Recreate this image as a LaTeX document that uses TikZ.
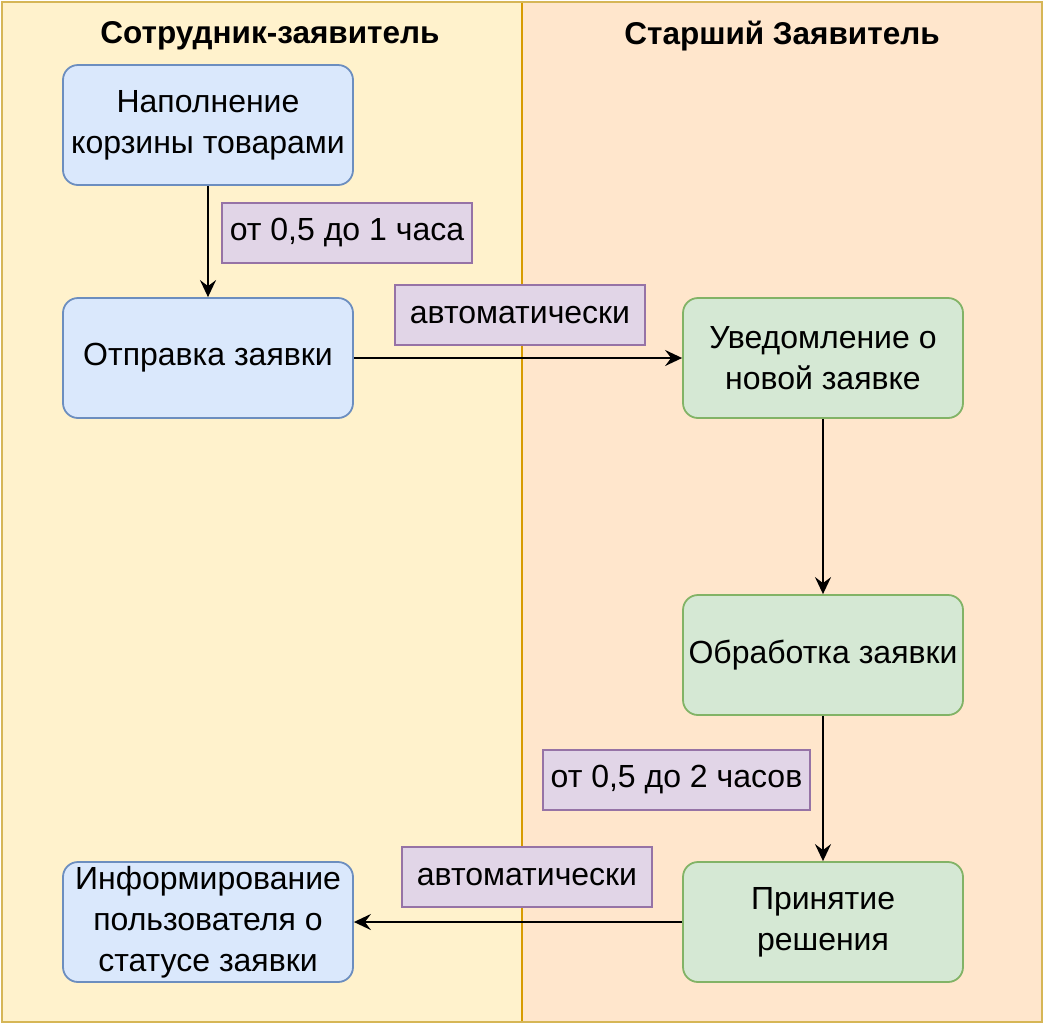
\documentclass[tikz,border=0pt]{standalone}
\usepackage{fontspec}
\setmainfont{Liberation Sans}
\usetikzlibrary{arrows.meta}

\definecolor{laneAfill}{HTML}{FFF2CC}
\definecolor{laneAdraw}{HTML}{D6B656}
\definecolor{laneBfill}{HTML}{FFE6CC}
\definecolor{laneBdraw}{HTML}{D79B00}
\definecolor{bluefill}{HTML}{DAE8FC}
\definecolor{bluedraw}{HTML}{6C8EBF}
\definecolor{greenfill}{HTML}{D5E8D4}
\definecolor{greendraw}{HTML}{82B366}
\definecolor{notefill}{HTML}{E1D5E7}
\definecolor{notedraw}{HTML}{9673A6}

\tikzset{
    proc/.style={rounded corners=15pt, line width=1.8pt, minimum height=120pt,
        inner sep=0pt, align=center, font=\fontsize{32}{41}\selectfont},
    blueproc/.style={proc, fill=bluefill, draw=bluedraw, minimum width=290pt},
    greenproc/.style={proc, fill=greenfill, draw=greendraw, minimum width=280pt},
    notebox/.style={fill=notefill, draw=notedraw, line width=1.8pt, minimum height=60pt,
        inner sep=0pt, font=\fontsize{32}{40}\selectfont},
    lanehead/.style={font=\bfseries\fontsize{31.5}{40}\selectfont},
    flow/.style={line width=2pt, -{Stealth[length=17pt,width=16pt,inset=6pt]}}
}

\begin{document}
\begin{tikzpicture}[x=1pt,y=-1pt]
    \useasboundingbox (0,0) rectangle (1046,1026);

    % Lanes
    \draw[fill=laneAfill, draw=laneAdraw, line width=2pt] (2,2) rectangle (522,1022);
    \draw[fill=laneBfill, draw=laneBdraw, line width=2pt] (522,2) rectangle (1042,1022);
    \draw[laneAdraw, line width=2pt] (2,2) rectangle (1042,1022);
    \node[lanehead] (headA) at (270,36) {Сотрудник-заявитель};
    \node[lanehead] (headB) at (782,36) {Старший Заявитель};

    % Employee steps
    \node[blueproc] (fill) at (208,125) {Наполнение\\корзины товарами};
    \node[blueproc] (send) at (208,358) {Отправка заявки};
    \node[blueproc] (info) at (208,922) {Информирование\\пользователя о\\статусе заявки};

    % Senior steps
    \node[greenproc] (notify) at (823,358) {Уведомление о\\новой заявке};
    \node[greenproc] (handle) at (823,655) {Обработка заявки};
    \node[greenproc] (decide) at (823,922) {Принятие\\решения};

    % Timing notes
    \node[notebox, minimum width=250pt] (t1) at (347,233) {от 0,5 до 1 часа};
    \node[notebox, minimum width=250pt] (t2) at (520,315) {автоматически};
    \node[notebox, minimum width=267pt] (t3) at (676.5,780) {от 0,5 до 2 часов};
    \node[notebox, minimum width=250pt] (t4) at (527,877) {автоматически};

    % Flow
    \draw[flow] (fill) -- (send);
    \draw[flow] (send) -- (notify);
    \draw[flow] (notify) -- (handle);
    \draw[flow] (handle) -- (decide);
    \draw[flow] (decide) -- (info);
\end{tikzpicture}
\end{document}
